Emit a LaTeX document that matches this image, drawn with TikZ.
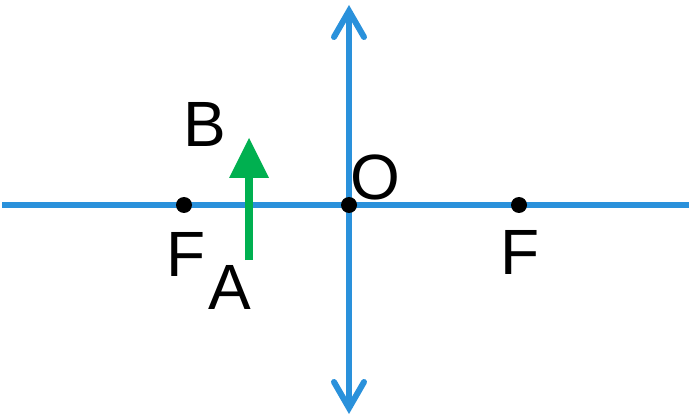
\documentclass[tikz,border=0pt]{standalone}
\usepackage{fontspec}
\setmainfont{Liberation Sans}
\definecolor{lensblue}{HTML}{2A91DB}
\definecolor{objgreen}{HTML}{00B050}
\begin{document}
\begin{tikzpicture}[x=1pt,y=-1pt,
  axisline/.style={draw=lensblue,line width=6pt},
  dotmark/.style={circle,fill=black,inner sep=0pt,minimum size=16pt},
  lbl/.style={inner sep=0pt,anchor=base,font=\fontsize{64}{64}\selectfont,text=black}]
\useasboundingbox (0,0) rectangle (694,417);
\coordinate (axL) at (2,205);
\coordinate (axR) at (689,205);
\coordinate (lensT) at (349,11);
\coordinate (lensB) at (349,408);
\coordinate (lensTa) at (334,37);
\coordinate (lensTb) at (364,37);
\coordinate (lensBa) at (334,382);
\coordinate (lensBb) at (364,382);
\draw[axisline] (axL) -- (axR);
\draw[axisline] (lensB) -- (lensT);
\draw[axisline,line cap=round,line join=miter] (lensTa) -- (lensT) -- (lensTb);
\draw[axisline,line cap=round,line join=miter] (lensBa) -- (lensB) -- (lensBb);
\node[dotmark] (F1) at (184,205) {};
\node[dotmark] (O1) at (349,205) {};
\node[dotmark] (F2) at (519,205) {};
\coordinate (objA) at (249,260);
\coordinate (objN) at (249,176);
\draw[objgreen,line width=8pt] (objA) -- (objN);
\fill[objgreen] (249,138) -- (269,178) -- (229,178) -- cycle;
\node[lbl] (lF1) at (186,276) {F};
\node[lbl] (lF2) at (520,274) {F};
\node[lbl] (lA) at (230,309) {A};
\node[lbl] (lB) at (204.5,147) {B};
\node[lbl] (lO) at (375,200) {O};
\end{tikzpicture}
\end{document}
